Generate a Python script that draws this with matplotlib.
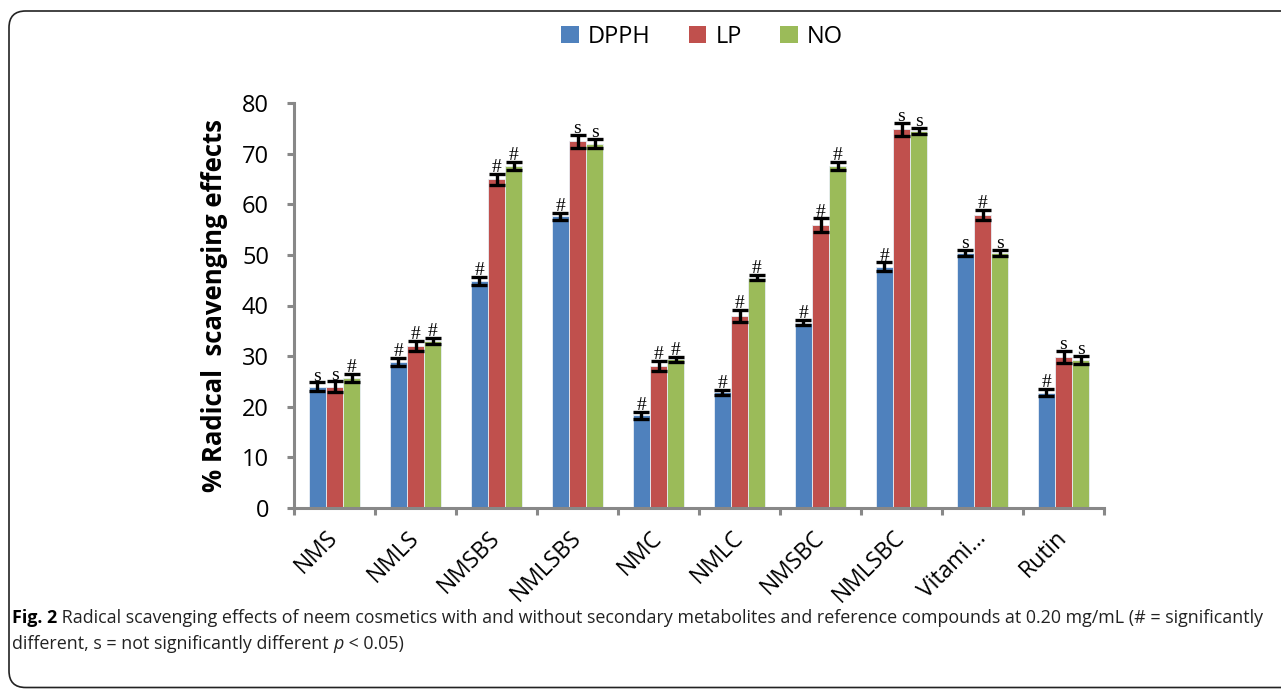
import matplotlib
matplotlib.use("Agg")
import matplotlib.pyplot as plt
import numpy as np
from matplotlib import font_manager
from matplotlib.patches import FancyBboxPatch, Patch

categories = ["NMS", "NMLS", "NMSBS", "NMLSBS", "NMC", "NMLC", "NMSBC", "NMLSBC", "Vitami\u2026", "Rutin"]
series_names = ["DPPH", "LP", "NO"]
dpph = [24.0, 28.8, 44.8, 57.6, 18.3, 22.9, 36.6, 47.7, 50.4, 22.8]
lp = [24.0, 32.0, 64.9, 72.4, 28.0, 37.9, 55.9, 74.8, 57.8, 29.8]
no = [25.6, 33.0, 67.6, 72.0, 29.4, 45.5, 67.6, 74.4, 50.4, 29.3]
dpph_err = [0.8, 0.8, 0.8, 0.75, 0.65, 0.5, 0.55, 0.8, 0.55, 0.75]
lp_err = [1.0, 1.0, 1.0, 1.2, 1.0, 1.2, 1.3, 1.3, 1.0, 1.25]
no_err = [0.8, 0.6, 0.8, 0.85, 0.5, 0.55, 0.8, 0.6, 0.55, 0.8]
dpph_sig = ["s", "#", "#", "#", "#", "#", "#", "#", "s", "#"]
lp_sig = ["s", "#", "#", "s", "#", "#", "#", "s", "#", "s"]
no_sig = ["#", "#", "#", "s", "#", "#", "#", "s", "s", "s"]
yticks = [0, 10, 20, 30, 40, 50, 60, 70, 80]
ylabel = "% Radical  scavenging effects"

colors = ["#4F81BD", "#C0504D", "#9BBB59"]

available = {f.name for f in font_manager.fontManager.ttflist}
main_font = "Open Sans" if "Open Sans" in available else "DejaVu Sans"
serif_font = "Liberation Serif" if "Liberation Serif" in available else "DejaVu Serif"
cap_font = "Open Sans" if "Open Sans" in available else "DejaVu Sans"

W, H = 1281, 689
fig = plt.figure(figsize=(W / 100, H / 100), dpi=100)

# frame
frame = FancyBboxPatch((9 / W, 1.5 / H), 1.2, (H - 12.5) / H,
                       boxstyle="round,pad=0,rounding_size=0.013",
                       transform=fig.transFigure, fill=False,
                       edgecolor="#222222", linewidth=1.2, mutation_aspect=W / H)
fig.patches.append(frame)

ax = fig.add_axes([294 / W, 1 - 508 / H, (1104 - 294) / W, (508 - 103) / H])

x = np.arange(len(categories))
bw = 0.212
series = [dpph, lp, no]
errs = [dpph_err, lp_err, no_err]
sigs = [dpph_sig, lp_sig, no_sig]
for i, (vals, e, sg, c) in enumerate(zip(series, errs, sigs, colors)):
    xs = x + (i - 1) * bw
    ax.bar(xs, vals, width=bw, color=c, edgecolor="#e8eef5", linewidth=0.6, zorder=2)
    ax.errorbar(xs, vals, yerr=e, fmt="none", ecolor="black", elinewidth=2.4,
                capsize=5.5, capthick=2.4, zorder=3)
    for xi, v, ei, s in zip(xs, vals, e, sg):
        ax.annotate(s, (xi, v + ei), xytext=(0, -1.5), textcoords="offset points",
                    ha="center", va="bottom", fontsize=14, family=serif_font, zorder=4)

ax.set_xlim(-0.5, len(categories) - 0.5)
ax.set_ylim(0, 80)
ax.set_yticks(yticks)
ax.set_yticklabels([str(t) for t in yticks], fontsize=17, family=main_font)
ax.set_xticks(x)
ax.set_xticklabels(categories, fontsize=16.5, family=main_font, rotation=45,
                   ha="right", va="center", rotation_mode="anchor")
ax.set_xticks(np.arange(-0.5, len(categories), 1.0), minor=True)
ax.tick_params(axis="x", which="major", length=0, pad=19)
ax.tick_params(axis="x", which="minor", length=5, width=2.2, color="#888888", direction="out")
ax.tick_params(axis="y", length=5, width=2.2, color="#888888", direction="out", pad=13)
for s in ["top", "right"]:
    ax.spines[s].set_visible(False)
for s in ["left", "bottom"]:
    ax.spines[s].set_color("#888888")
    ax.spines[s].set_linewidth(2.2)
    ax.spines[s].set_capstyle("projecting")
ax.set_ylabel(ylabel, fontsize=18.5, family=main_font, fontweight="bold", labelpad=10)

handles = [Patch(facecolor=c, edgecolor="none") for c in colors]
fig.legend(handles, series_names, loc="center", bbox_to_anchor=(702 / W, 1 - 37 / H),
           ncol=3, frameon=False, prop={"family": main_font, "size": 17},
           handlelength=0.75, handleheight=0.75, handletextpad=0.4, columnspacing=1.6)

# caption
renderer = fig.canvas.get_renderer()
y1 = 1 - 618 / H
y2 = 1 - 644 / H
x0 = 12 / W
line1_bold = "Fig. 2"
line1_rest = (" Radical scavenging effects of neem cosmetics with and without secondary metabolites "
              "and reference compounds at 0.20 mg/mL (# = significantly")

# fit caption font size to the reference line width
probe_size = 12.0
t1 = fig.text(0, 0, line1_bold, fontsize=probe_size, family=cap_font, fontweight="bold")
t2 = fig.text(0, 0, line1_rest, fontsize=probe_size, family=cap_font)
wsum = t1.get_window_extent(renderer).width + t2.get_window_extent(renderer).width
t1.remove(); t2.remove()
cap_size = probe_size * 1250.0 / wsum

def put(xf, yf, s, **kw):
    t = fig.text(xf, yf, s, va="center", ha="left", fontsize=cap_size, family=cap_font, **kw)
    bb = t.get_window_extent(renderer)
    return xf + bb.width / W

xx = put(x0, y1, line1_bold, fontweight="bold")
put(xx, y1, line1_rest, color="#222222")
xx = put(x0, y2, "different, s = not significantly different ", color="#222222")
xx = put(xx, y2, "p", style="italic", color="#222222")
put(xx, y2, " < 0.05)", color="#222222")

fig.savefig("out.png", dpi=100)
